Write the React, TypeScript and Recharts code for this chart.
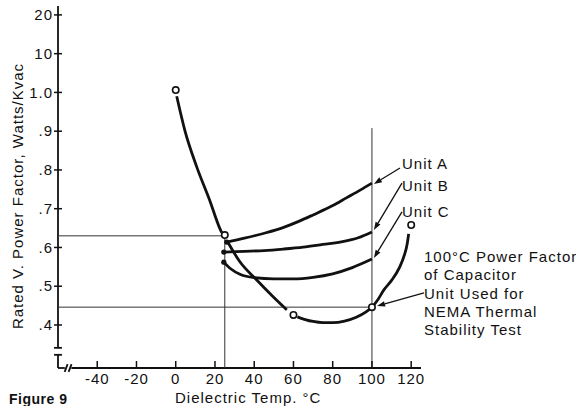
import { ComposedChart, Line, XAxis, YAxis, ReferenceLine, ReferenceDot } from 'recharts'

const FONT = '"Liberation Sans", Arial, Helvetica, sans-serif'
const INK = '#111'

const xTicks = [-40, -20, 0, 20, 40, 60, 80, 100, 120]
const yTicks = [0.4, 0.5, 0.6, 0.7, 0.8, 0.9, 1.0, 1.1, 1.2]
const yTickLabels = ['.4', '.5', '.6', '.7', '.8', '.9', '1.0', '10', '20']

// test capacitor, drawn in three pieces between the open circles
const testPart1 = [
  { t: 0.5, v: 0.99 }, { t: 4.6, v: 0.903 }, { t: 10.7, v: 0.808 },
  { t: 17.3, v: 0.722 }, { t: 22.4, v: 0.65 }, { t: 23.5, v: 0.638 },
]
const testPart2 = [
  { t: 26.5, v: 0.614 }, { t: 32.7, v: 0.563 }, { t: 41.3, v: 0.516 },
  { t: 49, v: 0.476 }, { t: 56.6, v: 0.439 },
]
const testPart3 = [
  { t: 62, v: 0.421 }, { t: 66, v: 0.414 }, { t: 70, v: 0.409 }, { t: 75, v: 0.406 },
  { t: 80, v: 0.406 }, { t: 86, v: 0.41 }, { t: 92, v: 0.42 }, { t: 97, v: 0.434 },
  { t: 100, v: 0.446 }, { t: 103, v: 0.465 }, { t: 106, v: 0.49 }, { t: 110, v: 0.515 },
  { t: 114, v: 0.548 }, { t: 116.5, v: 0.58 }, { t: 118, v: 0.61 }, { t: 118.7, v: 0.635 },
]
const testPoints = [
  { t: 0, v: 1.006 }, { t: 25, v: 0.632 }, { t: 60, v: 0.426 },
  { t: 100, v: 0.446 }, { t: 120, v: 0.658 },
]

const unitA = [
  { t: 26, v: 0.614 }, { t: 35, v: 0.624 }, { t: 46, v: 0.638 }, { t: 55, v: 0.652 },
  { t: 63, v: 0.668 }, { t: 70, v: 0.684 }, { t: 80, v: 0.708 }, { t: 87, v: 0.728 },
  { t: 94, v: 0.748 }, { t: 100, v: 0.766 },
]
const unitB = [
  { t: 24.5, v: 0.588 }, { t: 35, v: 0.59 }, { t: 45, v: 0.592 }, { t: 55, v: 0.596 },
  { t: 65, v: 0.601 }, { t: 75, v: 0.608 }, { t: 85, v: 0.615 }, { t: 93, v: 0.625 },
  { t: 100, v: 0.64 },
]
const unitC = [
  { t: 24.5, v: 0.562 }, { t: 28, v: 0.545 }, { t: 33, v: 0.53 }, { t: 40, v: 0.522 },
  { t: 50, v: 0.519 }, { t: 60, v: 0.519 }, { t: 70, v: 0.523 }, { t: 80, v: 0.532 },
  { t: 90, v: 0.548 }, { t: 100, v: 0.57 },
]
const unitStarts = [{ t: 26, v: 0.614 }, { t: 24.5, v: 0.588 }, { t: 24.5, v: 0.562 }]

// guide lines at 25 °C and 100 °C
const guides = [
  [{ x: -60, y: 0.63 }, { x: 25, y: 0.63 }],
  [{ x: -60, y: 0.446 }, { x: 100, y: 0.446 }],
  [{ x: 25, y: 0.63 }, { x: 25, y: 0.289 }],
  [{ x: 100, y: 0.908 }, { x: 100, y: 0.289 }],
]

// axis frame with the broken scale near the origin
const frame = [
  [{ x: -60, y: 1.223 }, { x: -60, y: 0.341 }],
  [{ x: -62, y: 0.341 }, { x: -58, y: 0.341 }],
  [{ x: -62, y: 0.323 }, { x: -58, y: 0.323 }],
  [{ x: -60, y: 0.323 }, { x: -60, y: 0.289 }],
  [{ x: -60, y: 0.289 }, { x: -56.5, y: 0.289 }],
  [{ x: -56.6, y: 0.279 }, { x: -55.1, y: 0.299 }],
  [{ x: -54.6, y: 0.279 }, { x: -53.1, y: 0.299 }],
  [{ x: -53.2, y: 0.289 }, { x: 125, y: 0.289 }],
]

// leader arrows: label end -> curve
const arrows = [
  [{ x: 114.3, y: 0.805 }, { x: 101, y: 0.764 }],
  [{ x: 115.3, y: 0.766 }, { x: 101, y: 0.645 }],
  [{ x: 115.3, y: 0.692 }, { x: 101, y: 0.573 }],
  [{ x: 126.5, y: 0.483 }, { x: 102.6, y: 0.449 }],
]

const unitLabels = ['Unit A', 'Unit B', 'Unit C']
const noteLines = ['100°C Power Factor', 'of Capacitor', 'Unit Used for', 'NEMA Thermal', 'Stability Test']

const textStyle = { fontFamily: FONT, fontSize: 15, letterSpacing: 1, fill: INK }

function XTick({ x, y, payload }: any) {
  return (
    <g>
      <line x1={x} x2={x} y1={y - 7} y2={y} stroke={INK} strokeWidth={1.5} />
      <text x={x} y={y + 11} dy="0.35em" textAnchor="middle" style={textStyle}>{payload.value}</text>
    </g>
  )
}

function YTick({ x, y, payload }: any) {
  const label = yTickLabels[yTicks.indexOf(payload.value)]
  return (
    <g>
      <line x1={x - 4} x2={x + 4} y1={y} y2={y} stroke={INK} strokeWidth={1.5} />
      <text x={x - 5} y={y} dy="0.35em" textAnchor="end" style={textStyle}>{label}</text>
    </g>
  )
}

function Arrow({ x1, y1, x2, y2 }: any) {
  const a = Math.atan2(y2 - y1, x2 - x1)
  const bx = x2 - 8 * Math.cos(a)
  const by = y2 - 8 * Math.sin(a)
  const w = 2.8
  const pts = `${x2},${y2} ${bx - w * Math.sin(a)},${by + w * Math.cos(a)} ${bx + w * Math.sin(a)},${by - w * Math.cos(a)}`
  return (
    <g>
      <line x1={x1} y1={y1} x2={bx} y2={by} stroke={INK} strokeWidth={1.3} />
      <polygon points={pts} fill={INK} />
    </g>
  )
}

function Text({ x, y, children, bold }: any) {
  return (
    <div style={{
      position: 'absolute', left: x, top: y, transform: 'translateY(-50%)', whiteSpace: 'nowrap',
      fontSize: bold ? 14 : 15, fontWeight: bold ? 700 : 400, letterSpacing: bold ? 0.5 : 1, lineHeight: '18px',
    }}>{children}</div>
  )
}

export default function App() {
  return (
    <div style={{ position: 'absolute', left: 0, top: 0, width: 576, height: 406, background: '#fff', fontFamily: FONT, color: INK, overflow: 'hidden' }}>
      <ComposedChart width={576} height={406} margin={{ top: 6, right: 155, bottom: 0, left: 0 }}>
        <XAxis dataKey="t" type="number" domain={[-60, 125]} ticks={xTicks} allowDataOverflow
          height={38} axisLine={false} tickLine={false} tickSize={0} tickMargin={0} tick={<XTick />} interval={0} />
        <YAxis type="number" domain={[0.289, 1.223]} ticks={yTicks} allowDataOverflow
          width={58} axisLine={false} tickLine={false} tickSize={0} tickMargin={0} tick={<YTick />} interval={0} />
        {frame.map((s, i) => (
          <ReferenceLine key={'f' + i} segment={s} stroke={INK} strokeWidth={1.8} ifOverflow="visible" />
        ))}
        {guides.map((s, i) => (
          <ReferenceLine key={'g' + i} segment={s} stroke="#333" strokeWidth={1} ifOverflow="visible" />
        ))}
        {[testPart1, testPart2, testPart3, unitA, unitB, unitC].map((d, i) => (
          <Line key={'l' + i} data={d} dataKey="v" type="monotone" stroke={INK} strokeWidth={2.8}
            dot={false} activeDot={false} isAnimationActive={false} />
        ))}
        {arrows.map((s, i) => (
          <ReferenceLine key={'a' + i} segment={s} ifOverflow="visible" shape={(p: any) => <Arrow {...p} />} />
        ))}
        {unitStarts.map((p, i) => (
          <ReferenceDot key={'u' + i} x={p.t} y={p.v} r={2.6} fill={INK} stroke="none" />
        ))}
        {testPoints.map((p, i) => (
          <ReferenceDot key={'c' + i} x={p.t} y={p.v} r={3.2} fill="#fff" stroke={INK} strokeWidth={1.6} />
        ))}
      </ComposedChart>

      <div style={{
        position: 'absolute', left: 18, top: 196, transform: 'translate(-50%, -50%) rotate(-90deg)',
        whiteSpace: 'nowrap', fontSize: 15, letterSpacing: 1, lineHeight: '18px',
      }}>Rated V. Power Factor, Watts/Kvac</div>

      <Text x={175} y={398}>Dielectric Temp. °C</Text>
      <Text x={9} y={399} bold>Figure 9</Text>

      {unitLabels.map((s, i) => (
        <Text key={s} x={402} y={[164, 186, 212][i]}>{s}</Text>
      ))}
      {noteLines.map((s, i) => (
        <Text key={s} x={424} y={257 + i * 18.3}>{s}</Text>
      ))}
    </div>
  )
}
